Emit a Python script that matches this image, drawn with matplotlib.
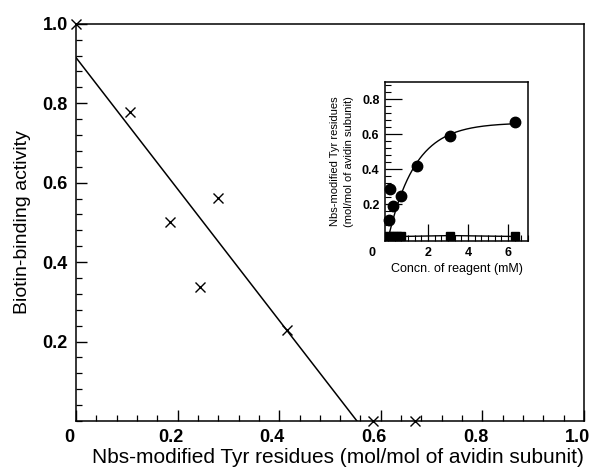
import numpy as np
import matplotlib
matplotlib.use("Agg")
import matplotlib.pyplot as plt
import matplotlib.transforms as mtransforms
from matplotlib.ticker import MultipleLocator

plt.rcParams['font.family'] = ['Liberation Sans', 'DejaVu Sans']

# main panel: biotin-binding activity vs modified Tyr
mod_tyr = [0.0, 0.106, 0.185, 0.244, 0.28, 0.415, 0.585, 0.667]
activity = [1.0, 0.778, 0.50, 0.338, 0.562, 0.229, 0.0, 0.0]
fit_x = [0.0, 0.553]
fit_y = [0.915, 0.0]

# inset: modified Tyr vs reagent concentration
conc_circ = [0.05, 0.1, 0.25, 0.65, 1.45, 3.1, 6.35]
tyr_circ = [0.11, 0.286, 0.19, 0.245, 0.417, 0.59, 0.67]
conc_sq = [0.05, 0.25, 0.45, 0.65, 3.1, 6.35]
tyr_sq = [0.015, 0.015, 0.02, 0.015, 0.02, 0.015]

fig = plt.figure(figsize=(6.05, 4.70), dpi=100)
ax = fig.add_axes([0.1256, 0.1043, 0.8397, 0.845])

ax.plot(fit_x, fit_y, color='black', lw=1.1)
ax.plot(mod_tyr, activity, 'x', color='black', ms=7, mew=1.0, clip_on=False)

ax.set_xlim(0, 1.0)
ax.set_ylim(0, 1.0)
ax.xaxis.set_minor_locator(MultipleLocator(0.04))
ax.yaxis.set_minor_locator(MultipleLocator(0.04))
ax.set_xticks([0, 0.2, 0.4, 0.6, 0.8, 1.0])
ax.set_xticklabels(['0', '0.2', '0.4', '0.6', '0.8', '1.0'])
ax.set_yticks([0.2, 0.4, 0.6, 0.8, 1.0])
ax.set_yticklabels(['0.2', '0.4', '0.6', '0.8', '1.0'])
ax.tick_params(which='major', direction='in', length=8, width=1.0,
               labelsize=13, pad=6, top=False, right=False)
ax.tick_params(which='minor', direction='in', length=4, width=0.9,
               top=False, right=False)
for lab in ax.get_xticklabels() + ax.get_yticklabels():
    lab.set_fontweight('bold')
# the printed x labels sit a little left of their ticks
shift = mtransforms.ScaledTranslation(-7 / 100, 0, fig.dpi_scale_trans)
for lab in ax.get_xticklabels():
    lab.set_transform(lab.get_transform() + shift)
for sp in ax.spines.values():
    sp.set_linewidth(1.1)

ax.set_xlabel('Nbs-modified Tyr residues (mol/mol of avidin subunit)',
              fontsize=15)
ax.xaxis.set_label_coords(0.515, -0.068)
ax.set_ylabel('Biotin-binding activity', fontsize=14, labelpad=8)

# inset
ins = fig.add_axes([0.6364, 0.4872, 0.2364, 0.3383])
b = np.linspace(0.3, 4.0, 400)
err = []
amp = []
for bb in b:
    f = 1 - np.exp(-np.array(conc_circ[2:]) / bb)
    a = np.dot(f, tyr_circ[2:]) / np.dot(f, f)
    amp.append(a)
    err.append(np.sum((a * f - np.array(tyr_circ[2:])) ** 2))
k = int(np.argmin(err))
xc = np.linspace(0.08, conc_circ[-1], 200)
ins.plot(xc, amp[k] * (1 - np.exp(-xc / b[k])), color='black', lw=1.0)
ins.plot(conc_circ, tyr_circ, 'o', color='black', ms=7.5, clip_on=False)
ins.plot(conc_sq, tyr_sq, 's-', color='black', ms=6, lw=1.0, clip_on=False)

ins.set_xlim(-0.15, 7.0)
ins.set_ylim(-0.011, 0.897)
ins.set_xticks([2, 4, 6])
ins.xaxis.set_minor_locator(MultipleLocator(1 / 3))
ins.set_yticks([0.2, 0.4, 0.6, 0.8])
ins.yaxis.set_minor_locator(MultipleLocator(0.04))
ins.tick_params(which='major', direction='in', length=12, width=0.9,
                labelsize=9, pad=4, top=False, right=False)
ins.tick_params(which='minor', direction='in', length=4, width=0.8,
                top=False, right=False)
for lab in ins.get_xticklabels() + ins.get_yticklabels():
    lab.set_fontweight('bold')
for sp in ins.spines.values():
    sp.set_linewidth(1.1)
ins.text(-0.09, -0.04, '0', transform=ins.transAxes, fontsize=9,
         fontweight='bold', ha='center', va='top')
ins.set_xlabel('Concn. of reagent (mM)', fontsize=9, labelpad=3)
ins.set_ylabel('Nbs-modified Tyr residues\n(mol/mol of avidin subunit)',
               fontsize=8, labelpad=6, linespacing=1.5)

fig.savefig('out.png', dpi=100)
